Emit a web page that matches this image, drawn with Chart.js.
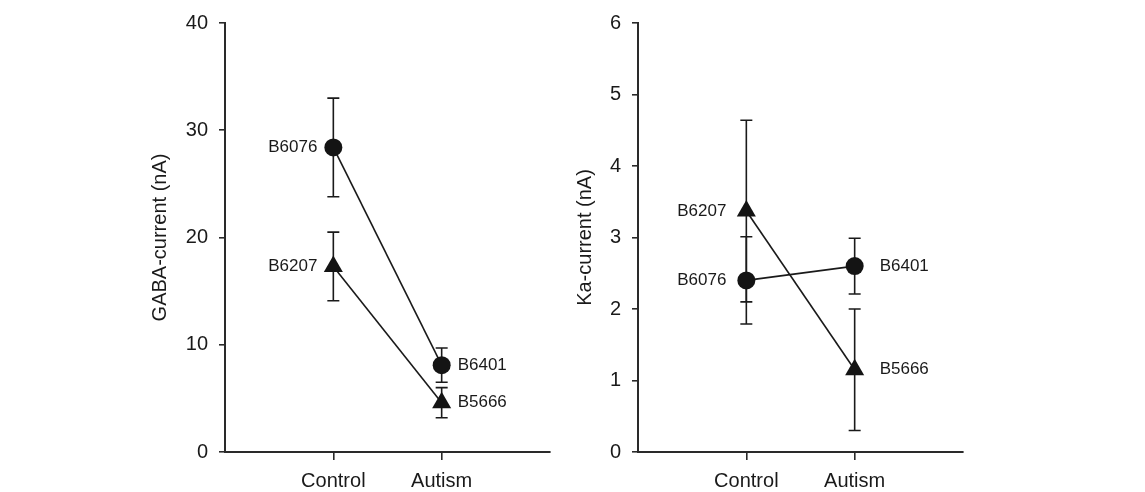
<!DOCTYPE html>
<html lang="en">
<head>
<meta charset="UTF-8">
<title>GABA and Ka currents</title>
<script src="https://cdn.jsdelivr.net/npm/chart.js"></script>
<style>
  body { margin: 0; background: #fff; width: 1145px; height: 492px; overflow: hidden; position: relative; }
  .panel { position: absolute; top: 0; width: 440px; height: 492px; }
  #panelGaba { left: 130px; }
  #panelKa { left: 543px; }
</style>
</head>
<body>
<div class="panel" id="panelGaba"><canvas id="chartGaba"></canvas></div>
<div class="panel" id="panelKa"><canvas id="chartKa"></canvas></div>
<script>
const groups = ['Control', 'Autism'];
const groupX = [1, 2];

// GABA-current (nA)
const gabaCircleNames = ['B6076', 'B6401'];
const gabaCircle = [28.4, 8.1];
const gabaCircleErr = [4.6, 1.6];
const gabaTriNames = ['B6207', 'B5666'];
const gabaTri = [17.3, 4.6];
const gabaTriErr = [3.2, 1.4];
const gabaTicks = [0, 10, 20, 30, 40];

// Ka-current (nA)
const kaCircleNames = ['B6076', 'B6401'];
const kaCircle = [2.4, 2.6];
const kaCircleErr = [0.61, 0.39];
const kaTriNames = ['B6207', 'B5666'];
const kaTri = [3.37, 1.15];
const kaTriErr = [1.27, 0.85];
const kaTicks = [0, 1, 2, 3, 4, 5, 6];

const fam = '"Liberation Sans", Arial, sans-serif';
const ink = '#1a1a1a';

// error bars under the markers, strain names beside them
const errorBars = {
  id: 'errorBars',
  beforeDatasetsDraw(chart) {
    const ctx = chart.ctx, y = chart.scales.y;
    chart.data.datasets.forEach((ds, d) => {
      chart.getDatasetMeta(d).data.forEach((pt, i) => {
        const top = y.getPixelForValue(ds.data[i].y + ds.err[i]);
        const bot = y.getPixelForValue(ds.data[i].y - ds.err[i]);
        ctx.save();
        ctx.strokeStyle = ink;
        ctx.lineWidth = 1.6;
        ctx.beginPath();
        ctx.moveTo(pt.x, top); ctx.lineTo(pt.x, bot);
        ctx.moveTo(pt.x - 6, top); ctx.lineTo(pt.x + 6, top);
        ctx.moveTo(pt.x - 6, bot); ctx.lineTo(pt.x + 6, bot);
        ctx.stroke();
        ctx.restore();
      });
    });
  },
  afterDatasetsDraw(chart, args, opts) {
    const ctx = chart.ctx;
    chart.data.datasets.forEach((ds, d) => {
      chart.getDatasetMeta(d).data.forEach((pt, i) => {
        ctx.save();
        ctx.fillStyle = ink;
        ctx.font = '17px ' + fam;
        ctx.textBaseline = 'middle';
        if (i === 0) {
          ctx.textAlign = 'right';
          ctx.fillText(ds.names[i], pt.x - opts.gaps[0], pt.y);
        } else {
          ctx.textAlign = 'left';
          ctx.fillText(ds.names[i], pt.x + opts.gaps[1], pt.y);
        }
        ctx.restore();
      });
    });
  }
};

function makeChart(id, sets, yMax, ticks, yTitle, titlePad, gaps) {
  return new Chart(document.getElementById(id), {
    type: 'scatter',
    data: {
      datasets: sets.map(s => ({
        data: groupX.map((x, i) => ({ x: x, y: s.values[i] })),
        err: s.err,
        names: s.names,
        showLine: true,
        borderColor: ink,
        borderWidth: 1.6,
        pointStyle: s.style,
        pointRadius: s.style === 'circle' ? 9 : 11,
        pointBackgroundColor: '#141414',
        pointBorderColor: '#141414',
        pointBorderWidth: 0
      }))
    },
    options: {
      responsive: true,
      maintainAspectRatio: false,
      animation: false,
      layout: { padding: { top: 20, right: 20, left: 0, bottom: 0 } },
      plugins: {
        legend: { display: false },
        tooltip: { enabled: false },
        errorBars: { gaps: gaps }
      },
      scales: {
        x: {
          type: 'linear', min: 0, max: 3,
          afterBuildTicks: s => { s.ticks = groupX.map(v => ({ value: v })); },
          afterFit: s => { s.height = 40; },
          ticks: {
            callback: v => groups[groupX.indexOf(v)],
            font: { size: 20, family: fam }, color: ink,
            padding: 9, maxRotation: 0, autoSkip: false
          },
          grid: { display: true, drawOnChartArea: false, drawTicks: true, tickLength: 8, color: '#2a2a2a', lineWidth: 1.6 },
          border: { display: true, color: '#2a2a2a', width: 2 }
        },
        y: {
          min: 0, max: yMax,
          afterBuildTicks: s => { s.ticks = ticks.map(v => ({ value: v })); },
          afterFit: s => { s.width = 95; },
          ticks: { font: { size: 20, family: fam }, color: ink, padding: 11 },
          grid: { display: true, drawOnChartArea: false, drawTicks: true, tickLength: 6, color: '#2a2a2a', lineWidth: 1.6 },
          border: { display: true, color: '#2a2a2a', width: 2 },
          title: {
            display: true, text: yTitle, color: ink,
            font: { size: 20, family: fam },
            padding: { top: titlePad, bottom: 0 }
          }
        }
      }
    },
    plugins: [errorBars]
  });
}

makeChart('chartGaba', [
  { values: gabaCircle, err: gabaCircleErr, names: gabaCircleNames, style: 'circle' },
  { values: gabaTri, err: gabaTriErr, names: gabaTriNames, style: 'triangle' }
], 40, gabaTicks, 'GABA-current (nA)', 18, [16, 16]);

makeChart('chartKa', [
  { values: kaCircle, err: kaCircleErr, names: kaCircleNames, style: 'circle' },
  { values: kaTri, err: kaTriErr, names: kaTriNames, style: 'triangle' }
], 6, kaTicks, 'Ka-current (nA)', 30, [20, 25]);
</script>
</body>
</html>
